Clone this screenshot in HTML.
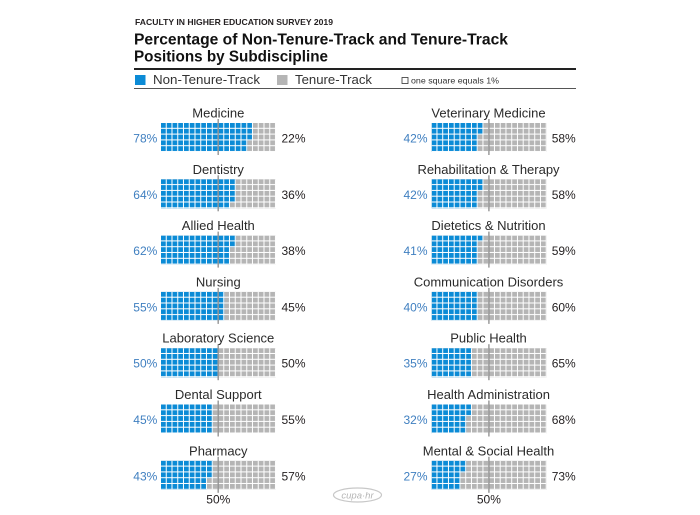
<!DOCTYPE html>
<html><head><meta charset="utf-8"><style>
html,body{margin:0;padding:0;background:#fff;}
svg{display:block;}
text{font-family:"Liberation Sans",sans-serif;}
.lab{font-size:13px;fill:#2a2a2a;text-anchor:middle;}
.pl{font-size:12px;fill:#3f7fc0;text-anchor:end;}
.pr{font-size:12px;fill:#231f20;text-anchor:start;}
</style></head><body>
<svg width="700" height="515" viewBox="0 0 700 515" xmlns="http://www.w3.org/2000/svg">
<defs>
<pattern id="gp" x="0" y="0" width="5.75" height="5.8" patternUnits="userSpaceOnUse">
<rect x="4.75" y="0" width="1" height="5.8" fill="#fff"/>
<rect x="0" y="4.8" width="5.75" height="1" fill="#fff"/>
</pattern>
</defs>
<rect width="700" height="515" fill="#fff"/>

<!-- Header -->
<text x="135" y="25" font-size="8.5" font-weight="bold" fill="#231f20" textLength="198" lengthAdjust="spacingAndGlyphs">FACULTY IN HIGHER EDUCATION SURVEY 2019</text>
<text x="134" y="44.3" font-size="15.5" font-weight="bold" fill="#111" textLength="374" lengthAdjust="spacingAndGlyphs">Percentage of Non-Tenure-Track and Tenure-Track</text>
<text x="134" y="61.7" font-size="15.5" font-weight="bold" fill="#111" textLength="194" lengthAdjust="spacingAndGlyphs">Positions by Subdiscipline</text>
<rect x="134" y="68" width="442" height="2" fill="#222"/>
<rect x="135" y="75" width="10.5" height="10" fill="#0b8bd6"/>
<text x="153" y="84" font-size="12.5" fill="#333" textLength="107" lengthAdjust="spacingAndGlyphs">Non-Tenure-Track</text>
<rect x="277" y="75" width="10.5" height="10" fill="#b5b5b5"/>
<text x="295" y="84" font-size="12.5" fill="#333" textLength="77" lengthAdjust="spacingAndGlyphs">Tenure-Track</text>
<rect x="402" y="77.5" width="6" height="6" fill="none" stroke="#333" stroke-width="0.8"/>
<text x="411" y="83.5" font-size="8.5" fill="#333" textLength="88" lengthAdjust="spacingAndGlyphs">one square equals 1%</text>
<rect x="134" y="88" width="442" height="1" fill="#555"/>

<!-- LEFT COLUMN gx=161 -->
<g transform="translate(161,123)">
<rect width="115" height="29" fill="#b5b5b5"/><rect width="86.25" height="29" fill="#0b8bd6"/><rect x="86.25" width="5.75" height="17.4" fill="#0b8bd6"/>
<rect width="115" height="29" fill="url(#gp)"/>
</g>
<g transform="translate(161,179.3)">
<rect width="115" height="29" fill="#b5b5b5"/><rect width="69" height="29" fill="#0b8bd6"/><rect x="69" width="5.75" height="23.2" fill="#0b8bd6"/>
<rect width="115" height="29" fill="url(#gp)"/>
</g>
<g transform="translate(161,235.6)">
<rect width="115" height="29" fill="#b5b5b5"/><rect width="69" height="29" fill="#0b8bd6"/><rect x="69" width="5.75" height="11.6" fill="#0b8bd6"/>
<rect width="115" height="29" fill="url(#gp)"/>
</g>
<g transform="translate(161,291.9)">
<rect width="115" height="29" fill="#b5b5b5"/><rect width="63.25" height="29" fill="#0b8bd6"/>
<rect width="115" height="29" fill="url(#gp)"/>
</g>
<g transform="translate(161,348.2)">
<rect width="115" height="29" fill="#b5b5b5"/><rect width="57.5" height="29" fill="#0b8bd6"/>
<rect width="115" height="29" fill="url(#gp)"/>
</g>
<g transform="translate(161,404.5)">
<rect width="115" height="29" fill="#b5b5b5"/><rect width="51.75" height="29" fill="#0b8bd6"/>
<rect width="115" height="29" fill="url(#gp)"/>
</g>
<g transform="translate(161,460.8)">
<rect width="115" height="29" fill="#b5b5b5"/><rect width="46" height="29" fill="#0b8bd6"/><rect x="46" width="5.75" height="17.4" fill="#0b8bd6"/>
<rect width="115" height="29" fill="url(#gp)"/>
</g>

<!-- RIGHT COLUMN gx=431.7 -->
<g transform="translate(431.7,123)">
<rect width="115" height="29" fill="#b5b5b5"/><rect width="46" height="29" fill="#0b8bd6"/><rect x="46" width="5.75" height="11.6" fill="#0b8bd6"/>
<rect width="115" height="29" fill="url(#gp)"/>
</g>
<g transform="translate(431.7,179.3)">
<rect width="115" height="29" fill="#b5b5b5"/><rect width="46" height="29" fill="#0b8bd6"/><rect x="46" width="5.75" height="11.6" fill="#0b8bd6"/>
<rect width="115" height="29" fill="url(#gp)"/>
</g>
<g transform="translate(431.7,235.6)">
<rect width="115" height="29" fill="#b5b5b5"/><rect width="46" height="29" fill="#0b8bd6"/><rect x="46" width="5.75" height="5.8" fill="#0b8bd6"/>
<rect width="115" height="29" fill="url(#gp)"/>
</g>
<g transform="translate(431.7,291.9)">
<rect width="115" height="29" fill="#b5b5b5"/><rect width="46" height="29" fill="#0b8bd6"/>
<rect width="115" height="29" fill="url(#gp)"/>
</g>
<g transform="translate(431.7,348.2)">
<rect width="115" height="29" fill="#b5b5b5"/><rect width="40.25" height="29" fill="#0b8bd6"/>
<rect width="115" height="29" fill="url(#gp)"/>
</g>
<g transform="translate(431.7,404.5)">
<rect width="115" height="29" fill="#b5b5b5"/><rect width="34.5" height="29" fill="#0b8bd6"/><rect x="34.5" width="5.75" height="11.6" fill="#0b8bd6"/>
<rect width="115" height="29" fill="url(#gp)"/>
</g>
<g transform="translate(431.7,460.8)">
<rect width="115" height="29" fill="#b5b5b5"/><rect width="28.75" height="29" fill="#0b8bd6"/><rect x="28.75" width="5.75" height="11.6" fill="#0b8bd6"/>
<rect width="115" height="29" fill="url(#gp)"/>
</g>

<!-- Median lines -->
<g stroke="#8a8a8a" stroke-width="1.5" opacity="0.85">
<line x1="218.2" y1="119" x2="218.2" y2="155"/>
<line x1="218.2" y1="175.3" x2="218.2" y2="211.3"/>
<line x1="218.2" y1="231.6" x2="218.2" y2="267.6"/>
<line x1="218.2" y1="287.9" x2="218.2" y2="323.9"/>
<line x1="218.2" y1="344.2" x2="218.2" y2="380.2"/>
<line x1="218.2" y1="400.5" x2="218.2" y2="436.5"/>
<line x1="218.2" y1="456.8" x2="218.2" y2="492.8"/>
<line x1="488.9" y1="119" x2="488.9" y2="155"/>
<line x1="488.9" y1="175.3" x2="488.9" y2="211.3"/>
<line x1="488.9" y1="231.6" x2="488.9" y2="267.6"/>
<line x1="488.9" y1="287.9" x2="488.9" y2="323.9"/>
<line x1="488.9" y1="344.2" x2="488.9" y2="380.2"/>
<line x1="488.9" y1="400.5" x2="488.9" y2="436.5"/>
<line x1="488.9" y1="456.8" x2="488.9" y2="492.8"/>
</g>

<!-- Left labels -->
<text class="lab" x="218.3" y="117.5">Medicine</text>
<text class="lab" x="218.3" y="173.8">Dentistry</text>
<text class="lab" x="218.3" y="230.1">Allied Health</text>
<text class="lab" x="218.3" y="286.4">Nursing</text>
<text class="lab" x="218.3" y="342.7">Laboratory Science</text>
<text class="lab" x="218.3" y="399">Dental Support</text>
<text class="lab" x="218.3" y="455.3">Pharmacy</text>

<text class="pl" x="157.3" y="142.5">78%</text>
<text class="pl" x="157.3" y="198.8">64%</text>
<text class="pl" x="157.3" y="255.1">62%</text>
<text class="pl" x="157.3" y="311.4">55%</text>
<text class="pl" x="157.3" y="367.7">50%</text>
<text class="pl" x="157.3" y="424">45%</text>
<text class="pl" x="157.3" y="480.3">43%</text>

<text class="pr" x="281.5" y="142.5">22%</text>
<text class="pr" x="281.5" y="198.8">36%</text>
<text class="pr" x="281.5" y="255.1">38%</text>
<text class="pr" x="281.5" y="311.4">45%</text>
<text class="pr" x="281.5" y="367.7">50%</text>
<text class="pr" x="281.5" y="424">55%</text>
<text class="pr" x="281.5" y="480.3">57%</text>

<!-- Right labels -->
<text class="lab" x="488.5" y="117.5">Veterinary Medicine</text>
<text class="lab" x="488.5" y="173.8">Rehabilitation &amp; Therapy</text>
<text class="lab" x="488.5" y="230.1">Dietetics &amp; Nutrition</text>
<text class="lab" x="488.5" y="286.4">Communication Disorders</text>
<text class="lab" x="488.5" y="342.7">Public Health</text>
<text class="lab" x="488.5" y="399">Health Administration</text>
<text class="lab" x="488.5" y="455.3">Mental &amp; Social Health</text>

<text class="pl" x="427.5" y="142.5">42%</text>
<text class="pl" x="427.5" y="198.8">42%</text>
<text class="pl" x="427.5" y="255.1">41%</text>
<text class="pl" x="427.5" y="311.4">40%</text>
<text class="pl" x="427.5" y="367.7">35%</text>
<text class="pl" x="427.5" y="424">32%</text>
<text class="pl" x="427.5" y="480.3">27%</text>

<text class="pr" x="551.7" y="142.5">58%</text>
<text class="pr" x="551.7" y="198.8">58%</text>
<text class="pr" x="551.7" y="255.1">59%</text>
<text class="pr" x="551.7" y="311.4">60%</text>
<text class="pr" x="551.7" y="367.7">65%</text>
<text class="pr" x="551.7" y="424">68%</text>
<text class="pr" x="551.7" y="480.3">73%</text>

<!-- Bottom 50% -->
<text x="218.3" y="503.5" font-size="12" fill="#231f20" text-anchor="middle">50%</text>
<text x="488.9" y="503.5" font-size="12" fill="#231f20" text-anchor="middle">50%</text>

<!-- Logo -->
<ellipse cx="357.5" cy="495" rx="24" ry="7" fill="none" stroke="#c8c8c8" stroke-width="1.2"/>
<text x="357.5" y="498.5" font-size="9.5" fill="#b5b5b5" text-anchor="middle" font-style="italic">cupa·hr</text>
</svg>
</body></html>
